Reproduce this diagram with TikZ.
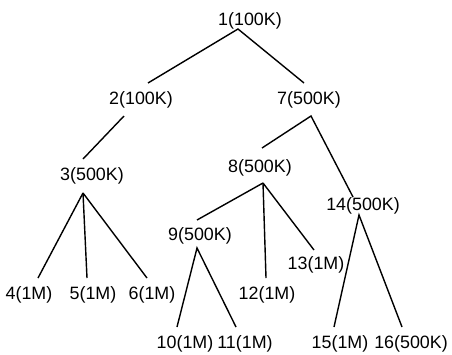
\documentclass[tikz,border=0pt]{standalone}
\usepackage{fontspec}
\setmainfont{Liberation Sans}
\begin{document}
\begin{tikzpicture}[x=0.75pt,y=-0.75pt,
  lbl/.style={anchor=base,inner sep=0pt,font=\fontsize{13.4}{16}\selectfont},
  edge/.style={line width=1.05pt}]
\useasboundingbox (0,0) rectangle (452,354);
% labels
\node[lbl] (n1) at (250,25) {1(100K)};
\node[lbl] (n2) at (141,104) {2(100K)};
\node[lbl] (n7) at (309,104) {7(500K)};
\node[lbl] (n3) at (92,180) {3(500K)};
\node[lbl] (n8) at (260,172) {8(500K)};
\node[lbl] (n14) at (363,210) {14(500K)};
\node[lbl] (n9) at (200,240) {9(500K)};
\node[lbl] (n13) at (316,269) {13(1M)};
\node[lbl] (n4) at (29,299) {4(1M)};
\node[lbl] (n5) at (93,299) {5(1M)};
\node[lbl] (n6) at (152,299) {6(1M)};
\node[lbl] (n12) at (267,299) {12(1M)};
\node[lbl] (n10) at (185,348) {10(1M)};
\node[lbl] (n11) at (245,348) {11(1M)};
\node[lbl] (n15) at (340,348) {15(1M)};
\node[lbl] (n16) at (411,348) {16(500K)};
% attachment points
\coordinate (n1-out) at (238,29);
\coordinate (n2-in) at (148,83);
\coordinate (n7-in) at (304,83);
\coordinate (n2-out) at (124,116);
\coordinate (n3-in) at (83,159);
\coordinate (n7-out) at (311,116);
\coordinate (n8-in) at (262,148);
\coordinate (n14-in) at (353,197);
\coordinate (n3-out) at (83,193);
\coordinate (n4-in) at (38,278);
\coordinate (n5-in) at (87,278);
\coordinate (n6-in) at (147,278);
\coordinate (n8-out) at (263,183);
\coordinate (n9-in) at (197,220);
\coordinate (n12-in) at (266,278);
\coordinate (n13-in) at (314,250);
\coordinate (n9-out) at (197,248);
\coordinate (n10-in) at (177,327);
\coordinate (n11-in) at (236,327);
\coordinate (n14-out) at (359,215);
\coordinate (n15-in) at (334,327);
\coordinate (n16-in) at (402,327);
% edges
\draw[edge] (n2-in) -- (n1-out) -- (n7-in);
\draw[edge] (n2-out) -- (n3-in);
\draw[edge] (n8-in) -- (n7-out) -- (n14-in);
\draw[edge] (n3-out) -- (n4-in);
\draw[edge] (n3-out) -- (n5-in);
\draw[edge] (n3-out) -- (n6-in);
\draw[edge] (n8-out) -- (n9-in);
\draw[edge] (n8-out) -- (n12-in);
\draw[edge] (n8-out) -- (n13-in);
\draw[edge] (n10-in) -- (n9-out) -- (n11-in);
\draw[edge] (n15-in) -- (n14-out) -- (n16-in);
\end{tikzpicture}
\end{document}
